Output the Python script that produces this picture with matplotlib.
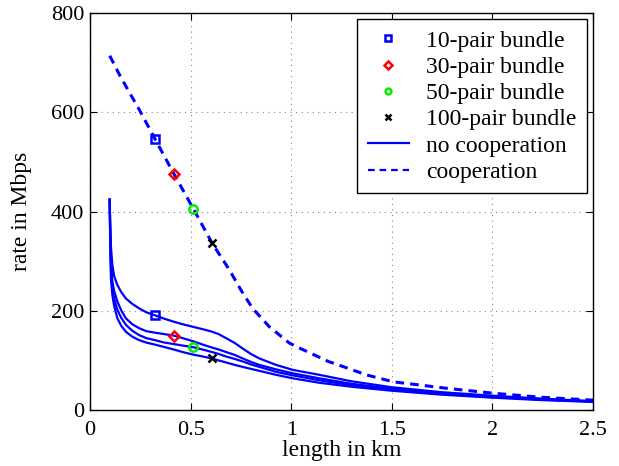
import matplotlib
matplotlib.use('Agg')
import matplotlib.pyplot as plt

# lengths (km) where each bundle size switches, and rates
bundle_labels = ['10-pair bundle', '30-pair bundle', '50-pair bundle', '100-pair bundle']
bundle_colors = ['blue', 'red', '#00ee00', 'black']
bundle_markers = ['s', 'D', 'o', 'x']
marker_x = [0.322, 0.417, 0.513, 0.606]
marker_coop = [547, 476, 406, 337]
marker_nocoop = [191, 150, 127, 104]

# cooperation (dashed)
coop_x = [0.098, 0.15, 0.2, 0.244, 0.322, 0.417, 0.513, 0.606, 0.692, 0.75, 0.808, 0.891,
          0.991, 1.041, 1.19, 1.207, 1.373, 1.506, 1.771, 2.003, 2.236, 2.5]
coop_y = [714, 673, 637, 606, 547, 476, 406, 337, 283, 242, 205, 168,
          135, 125, 97, 95, 71, 57, 44, 34, 26, 20]

# no cooperation (solid), one curve per bundle size
nocoop_x = [0.098, 0.1, 0.104, 0.111, 0.12, 0.136, 0.155, 0.178, 0.21, 0.244, 0.28, 0.322,
            0.37, 0.417, 0.46, 0.51, 0.56, 0.606, 0.64, 0.676, 0.72, 0.759, 0.8, 0.842,
            0.925, 1.008, 1.14, 1.3, 1.5, 1.75, 2.0, 2.25, 2.5]
nocoop_10 = [424, 380, 330, 292, 270, 252, 238, 225, 214, 205, 197, 191,
             184, 178, 173, 168, 163, 158, 153, 145, 135, 124, 113, 104,
             91, 81, 71, 58, 46, 36, 29, 23, 18]
nocoop_30 = [424, 370, 300, 259, 240, 219, 201, 185, 173, 165, 159, 156,
             153, 150, 145, 139, 132, 126, 122, 117, 111, 104, 97, 91,
             82, 74, 64, 53, 43, 34, 27, 22, 17.5]
nocoop_50 = [424, 360, 285, 245, 225, 202, 186, 172, 160, 151, 145, 141,
             136, 133, 130, 127, 122, 117, 113, 108, 103, 98, 92, 87,
             77, 70, 60, 50, 41, 33, 26, 21, 17]
nocoop_100 = [424, 350, 265, 232, 210, 185, 170, 158, 148, 141, 136, 132,
              127, 122, 117, 112, 108, 104, 100, 96, 91, 87, 83, 79,
              71, 64, 55, 47, 39, 31, 25, 20, 16.5]
nocoop_all = [nocoop_10, nocoop_30, nocoop_50, nocoop_100]

plt.rcParams['font.family'] = ['Liberation Serif', 'DejaVu Serif']
plt.rcParams['font.size'] = 17

fig = plt.figure(figsize=(6.19, 4.66), dpi=100)
ax = fig.add_axes([0.1454, 0.12, 0.8126, 0.852])

for ys in nocoop_all:
    ax.plot(nocoop_x, ys, '-', color='blue', lw=1.6, zorder=2)
ax.plot(coop_x, coop_y, '--', color='blue', lw=2.2, dashes=(2.8, 2.0), zorder=2)

for i in range(4):
    mk = dict(marker=bundle_markers[i], color=bundle_colors[i], ls='none',
              mfc='none', mec=bundle_colors[i], mew=1.8, zorder=3)
    ms = 6 if bundle_markers[i] != 'D' else 5.5
    ax.plot(marker_x[i], marker_coop[i], ms=ms, **mk)
    ax.plot(marker_x[i], marker_nocoop[i], ms=ms, label=bundle_labels[i], **mk)

ax.plot([], [], '-', color='blue', lw=1.6, label='no cooperation')
ax.plot([], [], '--', color='blue', lw=1.6, dashes=(3, 2.2), label='cooperation')

ax.set_xlim(0, 2.5)
ax.set_ylim(0, 800)
ax.set_xticks([0, 0.5, 1, 1.5, 2, 2.5])
ax.set_xticklabels(['0', '0.5', '1', '1.5', '2', '2.5'])
ax.set_yticks([0, 200, 400, 600, 800])
ax.tick_params(direction='in', top=True, right=True, length=5, width=0.8, labelsize=16)
ax.tick_params(axis='x', pad=8)
ax.tick_params(axis='y', pad=4)
ax.grid(True, ls=(0, (1, 4)), color='#888888', lw=0.8)
for s in ax.spines.values():
    s.set_linewidth(1.0)

ax.set_xlabel('length in km', labelpad=0)
ax.set_ylabel('rate in Mbps', labelpad=14)

leg = ax.legend(loc='upper right', markerscale=0.7, handlelength=1.75, fancybox=False,
                edgecolor='black', framealpha=1, borderpad=0.45, labelspacing=0.2,
                handletextpad=0.7, borderaxespad=0.27, fontsize=17)
leg.get_frame().set_linewidth(1.0)

fig.savefig('out.png', dpi=100)
